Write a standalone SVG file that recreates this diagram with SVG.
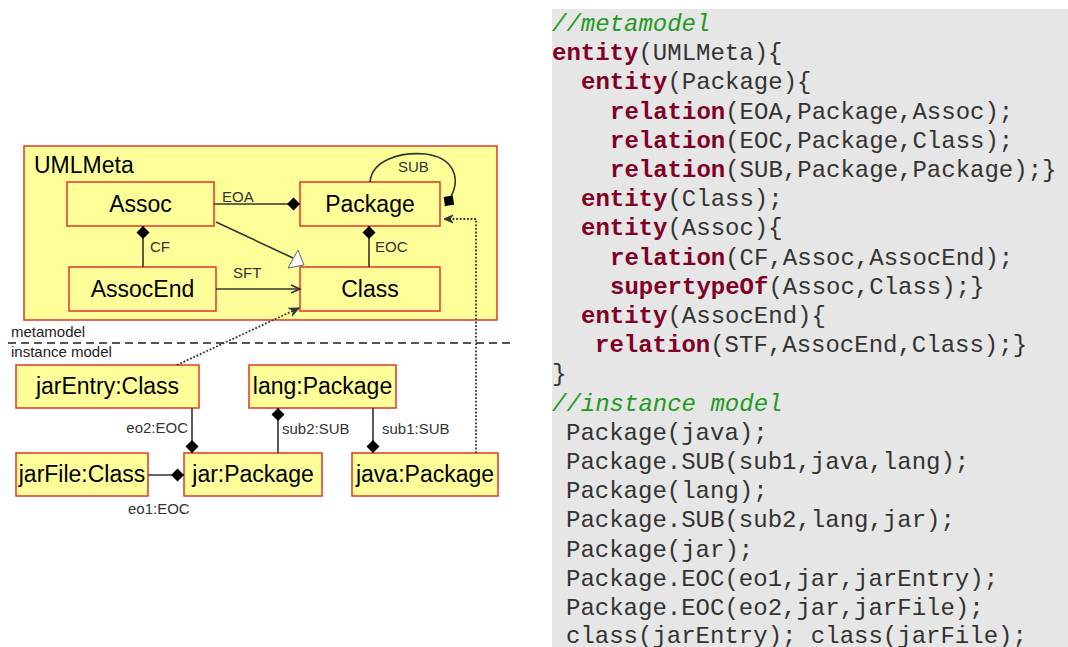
<svg xmlns="http://www.w3.org/2000/svg" width="1068" height="647" viewBox="0 0 1068 647">
<style>
.box{fill:#ffff99;stroke:#e3342a;stroke-width:1.5}
.nt{font-family:"Liberation Sans",Arial,sans-serif;font-size:23px;fill:#000;text-anchor:middle}
.lb{font-family:"Liberation Sans",Arial,sans-serif;font-size:15px;fill:#333}
.ln{stroke:#333;stroke-width:1.6;fill:none}
.dot{stroke:#333;stroke-width:1.8;fill:none;stroke-dasharray:1.8 1.8}
.code{font-family:"Liberation Mono","Courier New",monospace;font-size:24px;fill:#333}
.kw{font-weight:bold;fill:#800026}
.cm{font-style:italic;fill:#229922}
</style>
<defs>
<marker id="dia" markerUnits="userSpaceOnUse" markerWidth="14" markerHeight="14" refX="13" refY="7" orient="auto" viewBox="0 0 14 14">
<path d="M0,7 L6.5,0.5 L13,7 L6.5,13.5 Z" fill="#000"/>
</marker>
<marker id="arr" markerUnits="userSpaceOnUse" markerWidth="12" markerHeight="10" refX="10" refY="5" orient="auto" viewBox="0 0 12 10">
<path d="M1,1 L10,5 L1,9" fill="none" stroke="#333" stroke-width="1.6"/>
</marker>
<marker id="arrd" markerUnits="userSpaceOnUse" markerWidth="12" markerHeight="10" refX="10" refY="5" orient="auto" viewBox="0 0 12 10">
<path d="M1,1 L10,5 L1,9 L4,5 Z" fill="#333" stroke="#333" stroke-width="1"/>
</marker>
</defs>

<rect x="552" y="9" width="516" height="638" fill="#e6e6e6"/>
<g id="code" class="code">
<text x="552" y="31" class="cm">//metamodel</text>
<text x="552" y="60.2"><tspan class="kw">entity</tspan>(UMLMeta){</text>
<text x="581" y="89.4"><tspan class="kw">entity</tspan>(Package){</text>
<text x="610" y="118.6"><tspan class="kw">relation</tspan>(EOA,Package,Assoc);</text>
<text x="610" y="147.8"><tspan class="kw">relation</tspan>(EOC,Package,Class);</text>
<text x="610" y="177"><tspan class="kw">relation</tspan>(SUB,Package,Package);}</text>
<text x="581" y="206.2"><tspan class="kw">entity</tspan>(Class);</text>
<text x="581" y="235.4"><tspan class="kw">entity</tspan>(Assoc){</text>
<text x="610" y="264.6"><tspan class="kw">relation</tspan>(CF,Assoc,AssocEnd);</text>
<text x="610" y="293.8"><tspan class="kw">supertypeOf</tspan>(Assoc,Class);}</text>
<text x="581" y="323"><tspan class="kw">entity</tspan>(AssocEnd){</text>
<text x="595" y="352.2"><tspan class="kw">relation</tspan>(STF,AssocEnd,Class);}</text>
<text x="552" y="381.4">}</text>
<text x="552" y="410.6" class="cm">//instance model</text>
<text x="566" y="439.8">Package(java);</text>
<text x="566" y="469">Package.SUB(sub1,java,lang);</text>
<text x="566" y="498.2">Package(lang);</text>
<text x="566" y="527.4">Package.SUB(sub2,lang,jar);</text>
<text x="566" y="556.6">Package(jar);</text>
<text x="566" y="585.8">Package.EOC(eo1,jar,jarEntry);</text>
<text x="566" y="615">Package.EOC(eo2,jar,jarFile);</text>
<text x="566" y="643">class(jarEntry); class(jarFile);</text>
</g>

<g id="UMLMeta">
<rect class="box" x="24" y="146" width="473" height="174"/>
<text x="34" y="173" class="nt" style="text-anchor:start">UMLMeta</text>
</g>

<g id="separator">
<line x1="8" y1="343" x2="512" y2="343" stroke="#555" stroke-width="2" stroke-dasharray="8 5"/>
<text x="11" y="337" class="lb" style="fill:#222">metamodel</text>
<text x="11" y="357" class="lb" style="fill:#222">instance model</text>
</g>

<g id="Assoc"><rect class="box" x="67" y="182" width="147" height="44"/><text class="nt" x="140.5" y="212">Assoc</text></g>
<g id="Package"><rect class="box" x="300" y="182" width="140" height="44"/><text class="nt" x="370" y="212">Package</text></g>
<g id="AssocEnd"><rect class="box" x="69" y="267" width="147" height="44"/><text class="nt" x="142.5" y="297">AssocEnd</text></g>
<g id="Class"><rect class="box" x="300" y="267" width="140" height="44"/><text class="nt" x="370" y="297">Class</text></g>

<g id="jarEntry"><rect class="box" x="16" y="365" width="183" height="43"/><text class="nt" x="107.5" y="394">jarEntry:Class</text></g>
<g id="lang"><rect class="box" x="249" y="365" width="147" height="43"/><text class="nt" x="322.5" y="394">lang:Package</text></g>
<g id="jarFile"><rect class="box" x="16" y="453" width="132" height="43"/><text class="nt" x="82" y="482">jarFile:Class</text></g>
<g id="jar"><rect class="box" x="184" y="453" width="138" height="43"/><text class="nt" x="253" y="482">jar:Package</text></g>
<g id="java"><rect class="box" x="352" y="453" width="146" height="43"/><text class="nt" x="425" y="482">java:Package</text></g>

<g id="connectors">
<line class="ln" x1="214" y1="204" x2="300" y2="204" marker-end="url(#dia)"/>
<text class="lb" x="222" y="202">EOA</text>
<line class="ln" x1="143" y1="267" x2="143" y2="226" marker-end="url(#dia)"/>
<text class="lb" x="150" y="252">CF</text>
<line class="ln" x1="369" y1="267" x2="369" y2="226" marker-end="url(#dia)"/>
<text class="lb" x="375" y="252">EOC</text>
<line class="ln" x1="216" y1="289" x2="300" y2="289" marker-end="url(#arr)"/>
<text class="lb" x="233" y="278">SFT</text>
<line class="ln" x1="216" y1="222" x2="293" y2="258"/>
<polygon points="298,250 288,268 304,265" fill="#fff" stroke="#666" stroke-width="1"/>
<path class="ln" d="M370,182 C372,160 400,152 425,154 C452,157 466,178 445,206" marker-end="url(#dia)"/>
<text class="lb" x="398" y="172">SUB</text>
<path class="dot" d="M476,453 V219 H444" marker-end="url(#arrd)"/>
<line class="dot" x1="177" y1="365" x2="299" y2="308" marker-end="url(#arrd)"/>

<line class="ln" x1="192" y1="408" x2="192" y2="453" marker-end="url(#dia)"/>
<text class="lb" x="188" y="433" style="text-anchor:end">eo2:EOC</text>
<line class="ln" x1="278" y1="453" x2="278" y2="408" marker-end="url(#dia)"/>
<text class="lb" x="282" y="434">sub2:SUB</text>
<line class="ln" x1="373" y1="408" x2="373" y2="453" marker-end="url(#dia)"/>
<text class="lb" x="382" y="434">sub1:SUB</text>
<line class="ln" x1="148" y1="475" x2="184" y2="475" marker-end="url(#dia)"/>
<text class="lb" x="128" y="514">eo1:EOC</text>
</g>
</svg>
